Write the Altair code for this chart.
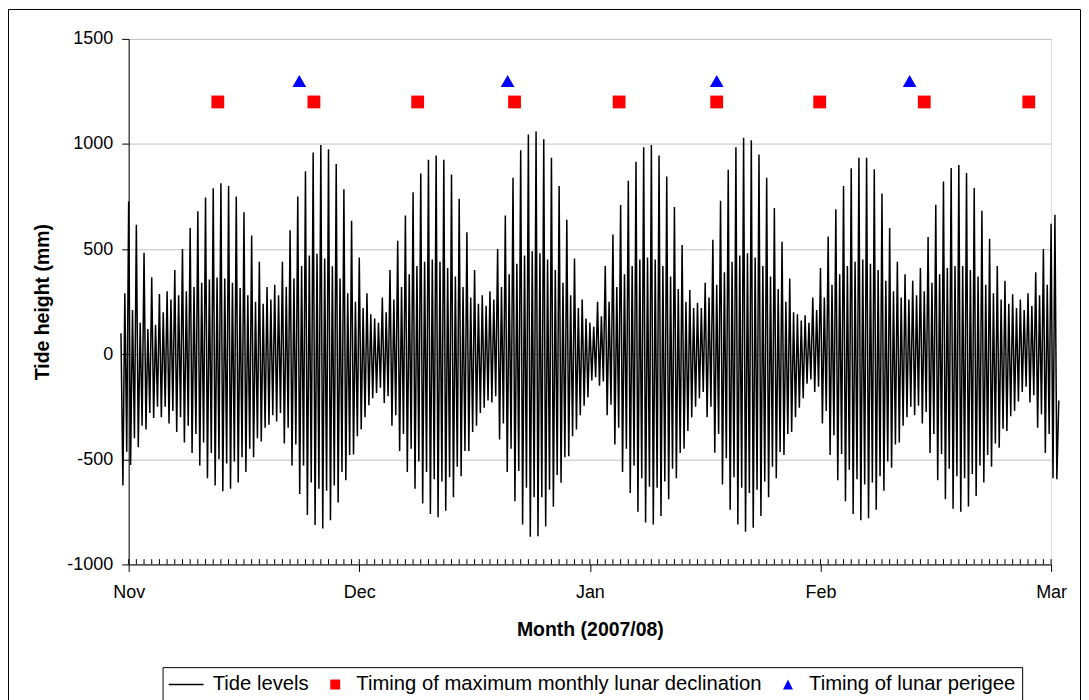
import altair as alt
import pandas as pd

# ---------------- data ----------------
# Tide extremes (mm), one entry per day, starting at day -1 (31 Oct) up to day 120.
START_DAY = -1
# main (larger) high water of each day
HH = [100, 726, 616, 483, 366, 286, 300, 400, 500, 600,
      680, 745, 790, 813, 800, 750, 675, 565, 440, 320,
      330, 440, 590, 750, 870, 960, 995, 975, 905, 785,
      635, 460, 290, 170, 270, 400, 540, 660, 770, 860,
      925, 945, 925, 855, 740, 580, 400, 280, 300, 500,
      660, 840, 970, 1045, 1060, 1023, 935, 800, 640, 455,
      260, 150, 250, 420, 570, 710, 825, 915, 985, 995,
      945, 845, 700, 520, 305, 245, 340, 545, 730, 878,
      985, 1030, 1018, 950, 840, 695, 535, 360, 190, 185,
      270, 410, 560, 690, 800, 885, 935, 935, 880, 765,
      600, 440, 380, 350, 410, 557, 711, 821, 886, 900,
      862, 791, 682, 549, 420, 350, 285, 260, 290, 390,
      500, 620]
# main (deeper) low water of each day
LL = [-624, -527, -442, -358, -303, -300, -330, -370, -420, -470,
      -530, -590, -625, -652, -640, -610, -560, -490, -415, -335,
      -320, -425, -530, -665, -765, -813, -829, -790, -706, -600,
      -477, -358, -243, -185, -232, -340, -460, -560, -640, -710,
      -760, -775, -745, -680, -580, -460, -340, -255, -230, -406,
      -560, -700, -810, -868, -866, -820, -726, -611, -485, -358,
      -245, -125, -150, -290, -430, -560, -660, -750, -800, -810,
      -770, -690, -590, -450, -300, -210, -300, -469, -620, -740,
      -810, -845, -825, -770, -680, -590, -480, -370, -255, -140,
      -180, -330, -480, -600, -700, -760, -790, -780, -740, -650,
      -540, -420, -300, -290, -330, -470, -600, -690, -735, -750,
      -725, -675, -610, -535, -445, -365, -270, -180, -230, -350,
      -470, -590]
# second (smaller) high water of each day
LH = [290, 210, 150, 120, 140, 200, 260, 280, 300, 320,
      340, 355, 365, 360, 340, 315, 280, 250, 240, 260,
      280, 320, 360, 420, 470, 478, 455, 418, 360, 290,
      250, 220, 190, 150, 200, 260, 320, 380, 420, 440,
      450, 440, 410, 370, 320, 270, 240, 230, 260, 320,
      380, 430, 470, 490, 480, 450, 400, 340, 280, 220,
      170, 130, 180, 250, 320, 380, 420, 450, 460, 450,
      420, 370, 310, 250, 220, 220, 270, 330, 390, 440,
      470, 480, 460, 420, 370, 310, 250, 200, 160, 150,
      210, 270, 330, 380, 420, 440, 450, 430, 400, 350,
      300, 270, 260, 280, 300, 340, 380, 410, 420, 420,
      400, 370, 330, 290, 260, 240, 220, 210, 230, 280,
      330, 663]
# second (shallower) low water of each day
HL = [-464, -400, -340, -280, -250, -250, -270, -300, -340, -380,
      -420, -470, -500, -520, -510, -490, -450, -400, -350, -290,
      -280, -350, -430, -530, -610, -640, -650, -625, -560, -480,
      -390, -300, -210, -160, -200, -290, -380, -450, -510, -560,
      -595, -605, -585, -535, -460, -370, -280, -220, -200, -330,
      -450, -555, -635, -680, -680, -645, -575, -490, -390, -290,
      -205, -110, -130, -240, -350, -450, -530, -590, -630, -635,
      -605, -545, -470, -365, -250, -180, -250, -380, -495, -585,
      -635, -660, -645, -605, -535, -465, -380, -300, -210, -120,
      -155, -270, -385, -475, -550, -595, -620, -610, -580, -510,
      -430, -340, -250, -245, -275, -380, -475, -545, -580, -590,
      -570, -530, -480, -425, -355, -295, -225, -155, -195, -285,
      -380, -595]
END_VALUE = -220

decl_days = [11.6, 24.1, 37.6, 50.2, 63.8, 76.5, 89.9, 103.5, 117.1]
decl_level = 1200
perigee_days = [22.2, 49.3, 76.5, 101.6]
perigee_level = 1300

month_ticks = [0, 30, 60, 90, 120]
month_labels = ["Nov", "Dec", "Jan", "Feb", "Mar"]
y_ticks = [-1000, -500, 0, 500, 1000, 1500]
minor_tick_days = list(range(0, 121))
series_names = ["Tide levels",
                "Timing of maximum monthly lunar declination",
                "Timing of lunar perigee"]

# ---------------- tables ----------------
rows = []
for i in range(len(HH)):
    d = START_DAY + i
    rows.append({"day": d + 0.0, "mm": HH[i]})
    rows.append({"day": d + 0.25, "mm": LL[i]})
    rows.append({"day": d + 0.5, "mm": LH[i]})
    rows.append({"day": d + 0.75, "mm": HL[i]})
rows.append({"day": START_DAY + len(HH), "mm": END_VALUE})
tide_df = pd.DataFrame(rows)
decl_df = pd.DataFrame({"day": decl_days, "mm": [decl_level] * len(decl_days)})
peri_df = pd.DataFrame({"day": perigee_days, "mm": [perigee_level] * len(perigee_days)})
minor_df = pd.DataFrame({"day": minor_tick_days})
legend_df = pd.DataFrame({"series": series_names})
one_df = pd.DataFrame({"k": [0]})

FONT = "Liberation Sans"
label_expr = "[" + ",".join("'%s'" % m for m in month_labels) + "][round(datum.value/30)]"

xscale = alt.Scale(domain=[0, 120], nice=False, zero=False)
yscale = alt.Scale(domain=[-1000, 1500], nice=False, zero=False)

x_axis = alt.Axis(values=month_ticks, labelExpr=label_expr, grid=False, labelFlush=False,
                  title="Month (2007/08)", tickSize=7, labelPadding=12, titlePadding=19)
y_axis = alt.Axis(values=y_ticks, grid=True, title="Tide height (mm)",
                  labelExpr="'' + datum.value",
                  tickSize=7, labelPadding=9, titlePadding=14)

X = lambda: alt.X("day:Q", scale=xscale, axis=x_axis)
Y = lambda: alt.Y("mm:Q", scale=yscale, axis=y_axis)

line = alt.Chart(tide_df).mark_line(color="black", strokeWidth=1.5, clip=False).encode(
    x=X(), y=Y(), order="day:Q")

minor = alt.Chart(minor_df).mark_rule(color="black", strokeWidth=1).encode(
    x=X(),
    y=alt.datum(-1000),
    y2=alt.datum(-975),
)

squares = alt.Chart(decl_df).mark_point(shape="square", filled=True, color="#ff0000",
                                        size=165, opacity=1).encode(x=X(), y=Y())
triangles = alt.Chart(peri_df).mark_point(shape="triangle-up", filled=True, color="#0000ff",
                                          size=190, opacity=1).encode(x=X(), y=Y())

# legend symbols (symbol cell of 16px, 8px per unit, centred at 0)
line_symbol = "M-1.375,-0.09H3V0.09H-1.375Z"
square_symbol = "M0.875,-0.625H2.125V0.625H0.875Z"
triangle_symbol = "M1.5,-0.625L2.125,0.625L0.875,0.625Z"

legend_layer = alt.Chart(legend_df).mark_point(filled=True, opacity=1, size=256).encode(
    x=alt.value(-3000),
    y=alt.value(-3000),
    color=alt.Color("series:N",
                    scale=alt.Scale(domain=series_names, range=["#000000", "#ff0000", "#0000ff"]),
                    legend=alt.Legend(title=None, orient="none", legendX=34, legendY=630,
                                      direction="horizontal", strokeColor="black",
                                      padding=7, columnPadding=4, labelOffset=23,
                                      labelFontSize=20.3, labelFont=FONT, labelColor="black",
                                      labelLimit=1000, symbolStrokeWidth=0, symbolOpacity=1,
                                      symbolSize=256)),
    shape=alt.Shape("series:N",
                    scale=alt.Scale(domain=series_names,
                                    range=[line_symbol, square_symbol, triangle_symbol])),
)

frame_left = alt.Chart(one_df).mark_rule(color="black", strokeWidth=1).encode(
    x=alt.value(-120.5), y=alt.value(-29.5), y2=alt.value(700))
frame_top = alt.Chart(one_df).mark_rule(color="black", strokeWidth=1).encode(
    x=alt.value(-120.5), x2=alt.value(954.5), y=alt.value(-29.5))
frame_right = alt.Chart(one_df).mark_rule(color="black", strokeWidth=1).encode(
    x=alt.value(954.5), y=alt.value(-29.5), y2=alt.value(700))

chart = alt.layer(line, minor, squares, triangles, legend_layer,
                  frame_left, frame_top, frame_right).properties(
    width=925, height=527,
    autosize=alt.AutoSizeParams(type="none"),
    padding={"left": 121, "top": 30, "right": 30, "bottom": 143},
).configure_view(stroke="#a0a0a0").configure(background="white").configure_axis(
    labelFont=FONT, titleFont=FONT, labelFontSize=18, titleFontSize=19.5,
    titleFontWeight="bold", labelColor="black", titleColor="black",
    tickColor="black", domainColor="black", gridColor="#c0c0c0",
)

chart.save("out.html", embed_options={"renderer": "svg", "actions": False})
